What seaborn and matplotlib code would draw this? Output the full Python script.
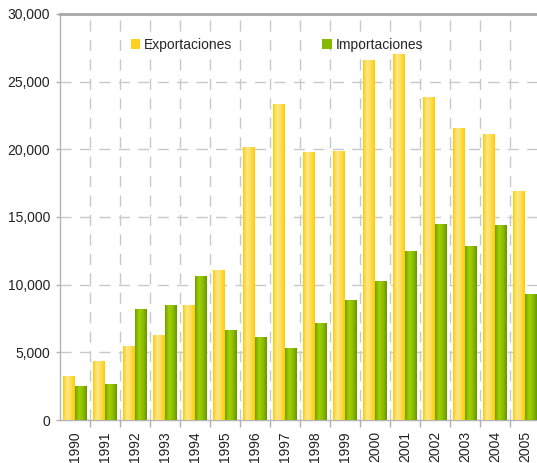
import numpy as np
import pandas as pd
import seaborn as sns
import matplotlib
matplotlib.use("Agg")
from matplotlib import pyplot as plt
from matplotlib.patches import Patch
from matplotlib.colors import LinearSegmentedColormap

anios = [str(a) for a in range(1990, 2006)]
exportaciones = [3250, 4290, 5400, 6280, 8430, 11010, 20100, 23280,
                 19730, 19810, 26530, 26980, 23800, 21510, 21060, 16850]
importaciones = [2510, 2660, 8200, 8430, 10640, 6580, 6060, 5320,
                 7100, 8800, 10270, 12420, 14410, 12790, 14340, 9240]

df = pd.DataFrame({
    "anio": anios * 2,
    "valor": exportaciones + importaciones,
    "serie": ["Exportaciones"] * len(anios) + ["Importaciones"] * len(anios),
})

sns.set_style("white")
plt.rcParams["font.family"] = ["Liberation Sans", "DejaVu Sans"]

fig = plt.figure(figsize=(5.37, 4.63), dpi=100)
ax = fig.add_axes([60 / 537, 43 / 463, 480 / 537, 406 / 463])

amarillo = "#FFD11A"
verde = "#86B800"
sns.barplot(data=df, x="anio", y="valor", hue="serie",
            palette=[amarillo, verde], width=0.8, legend=False,
            saturation=1, ax=ax, zorder=3)

# degradado en las barras
grad_amarillo = LinearSegmentedColormap.from_list(
    "am", ["#FFCC00", "#FFE78C", "#FFDD55", "#FFCC00"])
grad_verde = LinearSegmentedColormap.from_list(
    "ve", ["#6F9E00", "#A2D000", "#8CBE00", "#6A9600"])
fila = np.linspace(0, 1, 64).reshape(1, -1)
for cont, cmap in zip(ax.containers, [grad_amarillo, grad_verde]):
    for p in cont.patches:
        x, y = p.get_x(), p.get_y()
        w, h = p.get_width(), p.get_height()
        ax.imshow(fila, cmap=cmap, aspect="auto", zorder=3,
                  extent=[x, x + w, y, y + h], interpolation="bilinear")
        p.set_facecolor("none")
        p.set_edgecolor("none")

ax.set_xlim(-0.5, len(anios) - 0.5)
ax.set_ylim(0, 30000)
ax.set_yticks(range(0, 30001, 5000))
ax.yaxis.set_major_formatter(matplotlib.ticker.FuncFormatter(lambda v, _: f"{int(v):,}"))
ax.set_xticks(range(len(anios)))
ax.set_xticklabels(anios, rotation=90)
ax.set_xticks(np.arange(0.5, len(anios) - 0.5, 1), minor=True)
ax.tick_params(axis="x", which="major", length=0, pad=8, labelsize=10, colors="#222222")
ax.tick_params(axis="x", which="minor", length=5, width=1, color="#b0b0b0", bottom=True)
ax.tick_params(axis="y", length=3, width=1, color="#b0b0b0", pad=4, labelsize=10,
               labelcolor="#222222", left=True)
ax.set_xlabel("")
ax.set_ylabel("")

ax.grid(False)
ax.yaxis.grid(True, color="#c8c8c8", linestyle=(0, (8, 6)), linewidth=1, zorder=0)
ax.xaxis.grid(True, which="minor", color="#c8c8c8", linestyle=(0, (8, 6)), linewidth=1, zorder=0)
ax.set_axisbelow(True)

for lado in ["left", "bottom"]:
    ax.spines[lado].set_color("#b4b4b4")
    ax.spines[lado].set_linewidth(1)
ax.spines["top"].set_color("#a8a8a8")
ax.spines["top"].set_linewidth(2)
ax.spines["right"].set_visible(False)

handles = [Patch(facecolor=amarillo, edgecolor="none"),
           Patch(facecolor=verde, edgecolor="none")]
ax.legend(handles, ["Exportaciones", "Importaciones"], ncol=2, frameon=False,
          loc="center", bbox_to_anchor=(0.452, 0.924), fontsize=10,
          handlelength=0.7, handleheight=0.7, handletextpad=0.25,
          columnspacing=6.5)

fig.savefig("out.png", dpi=100)
